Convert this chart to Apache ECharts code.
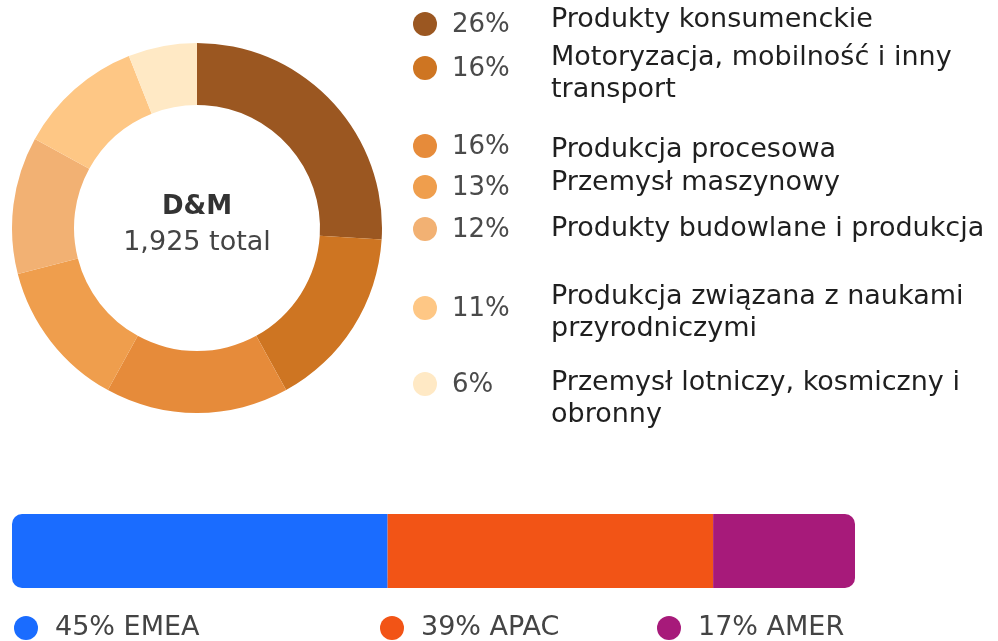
<!DOCTYPE html>
<html>
<head>
<meta charset="utf-8">
<title>D&amp;M</title>
<script src="https://cdn.jsdelivr.net/npm/echarts@6/dist/echarts.min.js"></script>
<style>
    html, body { margin: 0; padding: 0; background: #ffffff; }
    #chart { width: 998px; height: 641px; }
</style>
</head>
<body>
<div id="chart"></div>
<script>
// ---- data ----
var sectorNames = [
    'Produkty konsumenckie',
    'Motoryzacja, mobilność i inny\ntransport',
    'Produkcja procesowa',
    'Przemysł maszynowy',
    'Produkty budowlane i produkcja',
    'Produkcja związana z naukami\nprzyrodniczymi',
    'Przemysł lotniczy, kosmiczny i\nobronny'
];
var sectorShares = [26, 16, 16, 13, 12, 11, 6];
var sectorColors = ['#9b5721', '#ce7522', '#e68b3a', '#ef9e4d', '#f2b173', '#fec785', '#ffe9c5'];

var centerTitle = 'D&M';
var centerTotal = '1,925 total';

var regionNames = ['EMEA', 'APAC', 'AMER'];
var regionShares = [45, 39, 17];
var regionColors = ['#1a6cff', '#f25416', '#a71a7a'];

// ---- layout (pixels) ----
var FONT = '"DejaVu Sans", "Noto Sans", sans-serif';
var legendDotY = [24, 68, 146, 187, 229, 308, 384];
var legendNameY = [20, 58, 150, 183, 229, 297, 383];
var regionLegendX = [26, 392, 669];

(function () {
    'use strict';

    var chart = echarts.init(document.getElementById('chart'));
    var graphics = [];

    // legend for the donut: dot, share, name
    sectorNames.forEach(function (name, i) {
        graphics.push({
            type: 'circle',
            shape: { cx: 425, cy: legendDotY[i], r: 12 },
            style: { fill: sectorColors[i] }
        });
        graphics.push({
            type: 'text',
            x: 452, y: legendDotY[i] + 1,
            style: {
                text: sectorShares[i] + '%',
                font: '26px ' + FONT,
                fill: '#4a4a4a',
                verticalAlign: 'middle'
            }
        });
        graphics.push({
            type: 'text',
            x: 551, y: legendNameY[i] - 16,
            style: {
                text: name,
                font: '27px ' + FONT,
                lineHeight: 32,
                fill: '#1f1f1f',
                verticalAlign: 'top'
            }
        });
    });

    // centre label of the donut
    graphics.push({
        type: 'text', x: 197, y: 207,
        style: { text: centerTitle, font: 'bold 26px ' + FONT, fill: '#333', align: 'center', verticalAlign: 'middle' }
    });
    graphics.push({
        type: 'text', x: 197, y: 243,
        style: { text: centerTotal, font: '27px ' + FONT, fill: '#444', align: 'center', verticalAlign: 'middle' }
    });

    // legend under the bar
    regionNames.forEach(function (name, i) {
        graphics.push({
            type: 'circle',
            shape: { cx: regionLegendX[i], cy: 628, r: 12 },
            style: { fill: regionColors[i] }
        });
        graphics.push({
            type: 'text',
            x: regionLegendX[i] + 29, y: 628,
            style: {
                text: regionShares[i] + '% ' + name,
                font: '27px ' + FONT,
                fill: '#444',
                verticalAlign: 'middle'
            }
        });
    });

    var total = regionShares.reduce(function (a, b) { return a + b; }, 0);
    var last = regionNames.length - 1;

    var barSeries = regionNames.map(function (name, i) {
        return {
            type: 'bar',
            name: name,
            stack: 'region',
            barWidth: 74,
            silent: true,
            itemStyle: {
                color: regionColors[i],
                borderRadius: i === 0 ? [10, 0, 0, 10] : (i === last ? [0, 10, 10, 0] : 0)
            },
            data: [regionShares[i]]
        };
    });

    chart.setOption({
        animation: false,
        grid: { left: 12, top: 514, width: 843, height: 74 },
        xAxis: { type: 'value', min: 0, max: total, show: false },
        yAxis: { type: 'category', data: ['region'], show: false },
        series: [{
            type: 'pie',
            center: [197, 228],
            radius: [123, 185],
            startAngle: 90,
            clockwise: true,
            silent: true,
            label: { show: false },
            labelLine: { show: false },
            data: sectorNames.map(function (name, i) {
                return { name: name, value: sectorShares[i], itemStyle: { color: sectorColors[i] } };
            })
        }].concat(barSeries),
        graphic: graphics
    });
})();
</script>
</body>
</html>
